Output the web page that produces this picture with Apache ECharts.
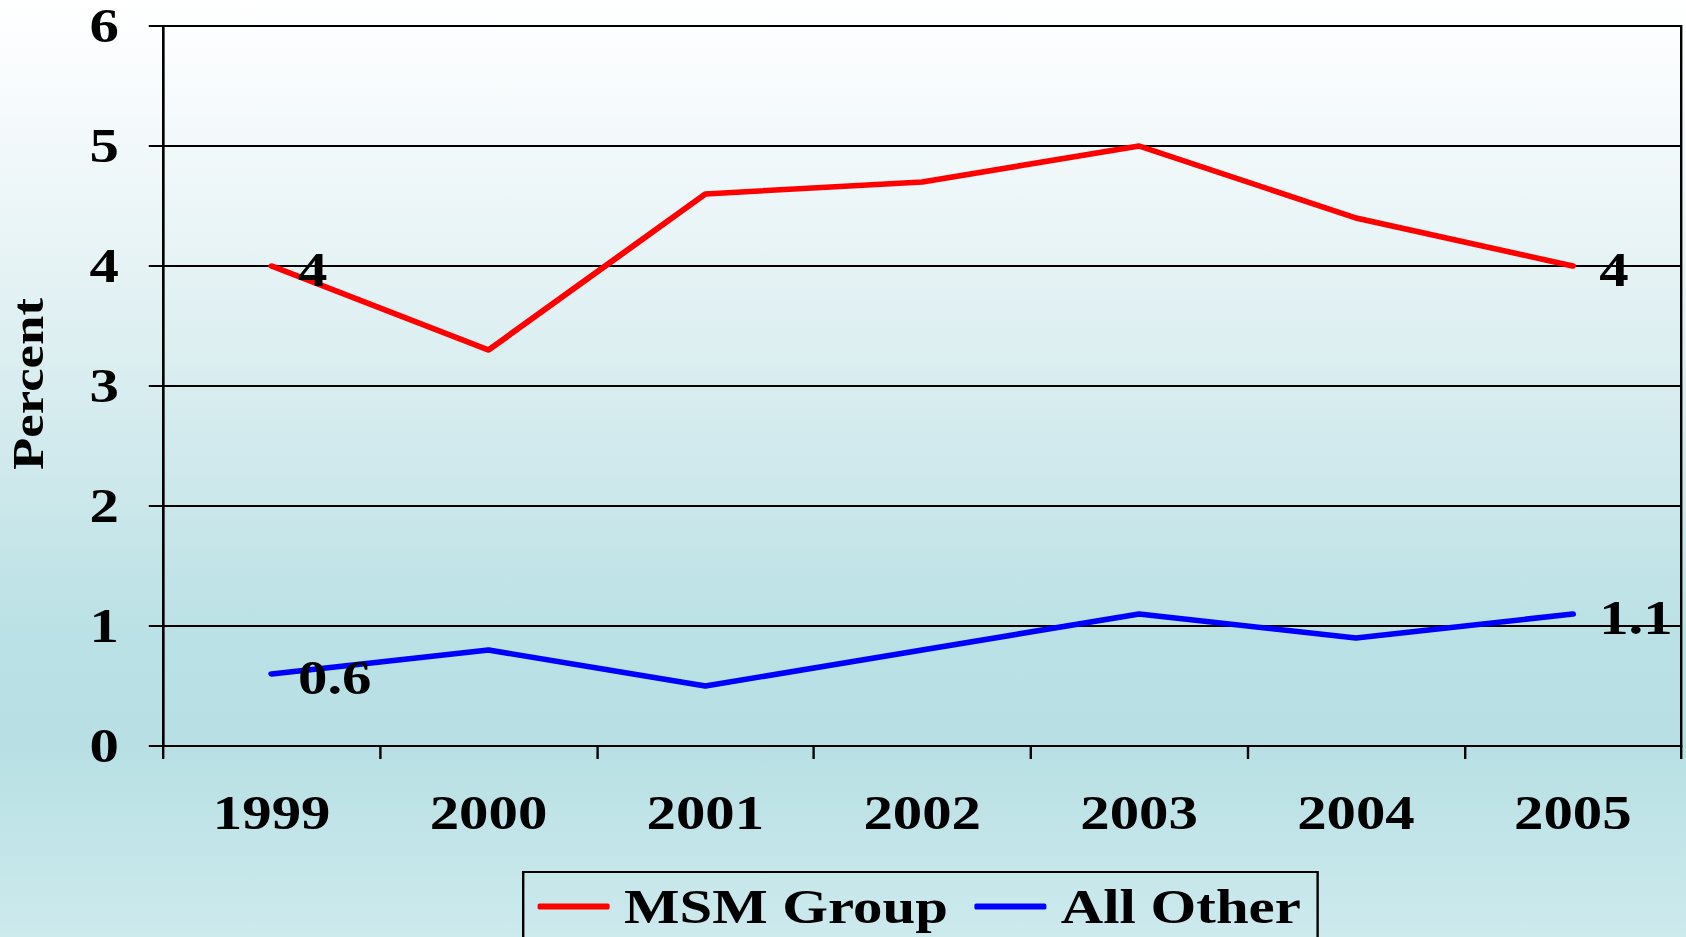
<!DOCTYPE html>
<html>
<head>
<meta charset="utf-8">
<title>MSM Group vs All Other, 1999–2005</title>
<script src="https://cdn.jsdelivr.net/npm/echarts@6/dist/echarts.min.js"></script>
<style>
  html, body { margin: 0; padding: 0; overflow: hidden; background: #cde9ec; }
  /* The chart is laid out on a narrower stage and widened, giving the wide bold lettering */
  #chart { width: 1405px; height: 937px; transform: scaleX(1.2); transform-origin: 0 0; }
</style>
</head>
<body>
<div id="chart"></div>
<script>
// Survey years and percentages
const years = ['1999', '2000', '2001', '2002', '2003', '2004', '2005'];
const msmGroup = [4, 3.3, 4.6, 4.7, 5.0, 4.4, 4.0];
const allOther = [0.6, 0.8, 0.5, 0.8, 1.1, 0.9, 1.1];
const seriesNames = ['MSM Group', 'All Other'];
const yMin = 0, yMax = 6, yStep = 1;

const FONT = "'Liberation Serif', 'Times New Roman', serif";
const textBase = { fontFamily: FONT, fontWeight: 'bold', fontSize: 49, color: '#000' };

// Only the first and last point of each line carry a value label
function withEndLabels(values) {
  return values.map((v, i) => {
    const isEnd = i === 0 || i === values.length - 1;
    return {
      value: v,
      label: {
        show: isEnd,
        position: 'right',
        distance: 22,
        offset: [0, 4],
        ...textBase
      }
    };
  });
}

const chart = echarts.init(document.getElementById('chart'), null, { renderer: 'svg' });

chart.setOption({
  animation: false,
  backgroundColor: {
    type: 'linear', x: 0, y: 0, x2: 0, y2: 1,
    colorStops: [
      { offset: 0.0, color: '#ffffff' },
      { offset: 0.12, color: '#f5fafc' },
      { offset: 0.3, color: '#e4f2f4' },
      { offset: 0.5, color: '#cfe9ec' },
      { offset: 0.68, color: '#bae1e5' },
      { offset: 0.8, color: '#b8e0e4' },
      { offset: 1.0, color: '#cdeaed' }
    ]
  },
  grid: {
    left: 136, top: 26, width: 1265, height: 720,
    show: true, borderColor: '#000', borderWidth: 2,
    backgroundColor: 'transparent'
  },
  legend: {
    data: seriesNames,
    left: 436, top: 872,
    orient: 'horizontal',
    icon: 'roundRect',
    padding: [10, 14, 10, 12],
    itemGap: 22,
    itemWidth: 60,
    itemHeight: 6,
    borderColor: '#000',
    borderWidth: 2,
    textStyle: { ...textBase, padding: [0, 0, 0, 7] }
  },
  xAxis: {
    type: 'category',
    data: years,
    boundaryGap: true,
    axisLine: { show: true, lineStyle: { color: '#000', width: 2 } },
    axisTick: { show: true, length: 13, interval: 0, lineStyle: { color: '#000', width: 2 } },
    axisLabel: { ...textBase, margin: 42, interval: 0 },
    splitLine: { show: false }
  },
  yAxis: {
    type: 'value',
    min: yMin, max: yMax, interval: yStep,
    axisLine: { show: true, lineStyle: { color: '#000', width: 2 } },
    axisTick: { show: true, length: 12, lineStyle: { color: '#000', width: 2 } },
    axisLabel: { ...textBase, margin: 37 },
    splitLine: { show: true, lineStyle: { color: '#000', width: 2 } }
  },
  graphic: [
    {
      type: 'text',
      x: 23.3, y: 384,
      rotation: Math.PI / 2,
      scaleX: 1.2, scaleY: 0.84,
      style: {
        text: 'Percent',
        font: "bold 44px " + FONT,
        fill: '#000',
        align: 'center',
        verticalAlign: 'middle'
      }
    }
  ],
  series: [
    {
      name: seriesNames[0],
      type: 'line',
      data: withEndLabels(msmGroup),
      symbol: 'circle',
      symbolSize: 0,
      showSymbol: true,
      lineStyle: { color: '#ff0000', width: 5.5, cap: 'round', join: 'round' },
      itemStyle: { color: '#ff0000' },
      z: 3
    },
    {
      name: seriesNames[1],
      type: 'line',
      data: withEndLabels(allOther),
      symbol: 'circle',
      symbolSize: 0,
      showSymbol: true,
      lineStyle: { color: '#0000ff', width: 5.5, cap: 'round', join: 'round' },
      itemStyle: { color: '#0000ff' },
      z: 3
    }
  ]
});
</script>
</body>
</html>
